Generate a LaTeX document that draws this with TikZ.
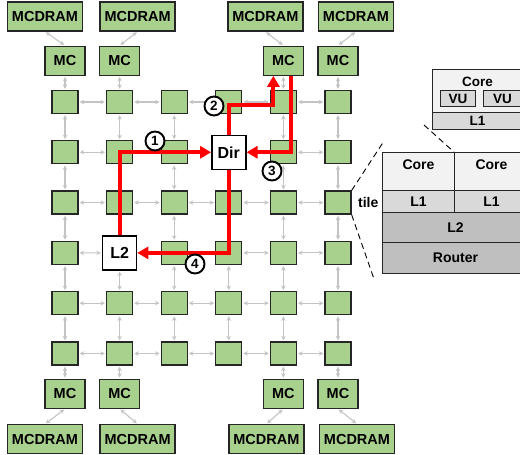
\documentclass[tikz,border=0pt]{standalone}
\usepackage{fontspec}
\setmainfont{Liberation Sans}
\usepackage{tikz}
\usetikzlibrary{arrows.meta, positioning}
\definecolor{tilegreen}{RGB}{169,209,142}
\definecolor{meshgray}{RGB}{196,196,196}
\definecolor{boxline}{RGB}{38,38,38}
\definecolor{corefill}{RGB}{242,242,242}
\definecolor{lonefill}{RGB}{217,217,217}
\definecolor{ltwofill}{RGB}{191,191,191}

\begin{document}
\begin{tikzpicture}[
    x=1pt, y=-1pt,
    tile/.style={
        rectangle,
        draw=boxline,
        fill=tilegreen,
        line width=1.3pt,
        minimum width=26pt,
        minimum height=23pt,
        inner sep=0pt
    },
    mc/.style={
        rectangle,
        draw=boxline,
        fill=tilegreen,
        line width=1.3pt,
        minimum width=40pt,
        minimum height=29pt,
        inner sep=0pt,
        font=\fontsize{14.5}{16}\selectfont\bfseries
    },
    dram/.style={mc, minimum width=75pt},
    agent/.style={
        rectangle,
        draw=black,
        fill=white,
        line width=1.4pt,
        minimum size=34pt,
        inner sep=0pt,
        font=\fontsize{16}{18}\selectfont\bfseries
    },
    part/.style={
        rectangle,
        draw=boxline,
        line width=1pt,
        anchor=north west,
        inner sep=0pt,
        font=\fontsize{14}{16}\selectfont\bfseries
    },
    small/.style={part, font=\fontsize{13.5}{15}\selectfont\bfseries},
    link/.style={<->, >={Stealth[length=4.5pt, width=4.5pt]}, line width=1.1pt, draw=meshgray, shorten >=1pt, shorten <=1pt},
    route/.style={->, >={Triangle[length=11pt, width=12pt]}, line width=4pt, draw=red},
    hop/.style={circle, draw=black, fill=white, line width=1.9pt, minimum size=19pt, inner sep=0pt, font=\fontsize{13.5}{14}\selectfont\bfseries},
    zoomline/.style={dashed, dash pattern=on 6pt off 4pt, line width=0.9pt}
]
    \useasboundingbox (0,0) rectangle (520,455);
    \clip (0,0) rectangle (520,455);

    % Mesh of tiles (two slots hold Dir and L2)
    \foreach \c in {1,...,6}
        \foreach \r in {1,...,6} {
            \pgfmathtruncatemacro{\hole}{(\c==4 && \r==2) || (\c==2 && \r==4)}
            \ifnum\hole=0
                \node[tile] (t-\c-\r) at ({65+(\c-1)*54.6}, {102+(\r-1)*50.3}) {};
            \fi
        }
    \node[agent, alias=t-4-2] (dir) at (228.8,152.3) {Dir};
    \node[agent, alias=t-2-4] (l2) at (119.6,252.9) {L2};

    % Mesh links
    \foreach \c [evaluate=\c as \n using int(\c+1)] in {1,...,5}
        \foreach \r in {1,...,6}
            \draw[link] (t-\c-\r) -- (t-\n-\r);
    \foreach \r [evaluate=\r as \n using int(\r+1)] in {1,...,5}
        \foreach \c in {1,...,6}
            \draw[link] (t-\c-\r) -- (t-\c-\n);

    % Memory controllers: top row
    \foreach \c/\dx in {1/-20, 2/18, 5/-18, 6/18} {
        \node[mc, above=14pt of t-\c-1] (mcn\c) {MC};
        \node[dram, above=14pt of mcn\c, xshift=\dx pt] (dramn\c) {MCDRAM};
        \draw[link] (mcn\c) -- (t-\c-1);
        \draw[link] (dramn\c.south) -- (mcn\c.north);
    }

    % Memory controllers: bottom row
    \foreach \c/\dx in {1/-20, 2/18, 5/-17, 6/19} {
        \node[mc, below=13pt of t-\c-6] (mcs\c) {MC};
        \node[dram, below=15pt of mcs\c, xshift=\dx pt] (drams\c) {MCDRAM};
        \draw[link] (t-\c-6) -- (mcs\c);
        \draw[link] (mcs\c.south) -- (drams\c.north);
    }

    % Miss path: L2 -> Dir -> MC -> Dir -> L2
    \draw[route] (l2.north) |- (dir.west);
    \draw[route] (dir.north) -- ++(0,-30) -| ([xshift=-10pt]mcn5.south);
    \draw[route] ([xshift=8pt]mcn5.south) |- (dir.east);
    \draw[route] (dir.south) |- (l2.east);

    \node[hop] (h1) at (155,141) {1};
    \node[hop] (h2) at (214,106) {2};
    \node[hop] (h3) at (272,171) {3};
    \node[hop] (h4) at (195,264) {4};

    % Tile close-up
    \node[part, fill=corefill, minimum width=72pt, minimum height=38pt, text depth=14pt] (tcore1) at (382,152) {Core};
    \node[part, fill=corefill, minimum width=74pt, minimum height=38pt, text depth=14pt] (tcore2) at (454,152) {Core};
    \node[part, fill=lonefill, minimum width=72pt, minimum height=22pt] (tl1a) at (382,190) {L1};
    \node[part, fill=lonefill, minimum width=74pt, minimum height=22pt] (tl1b) at (454,190) {L1};
    \node[part, fill=ltwofill, minimum width=146pt, minimum height=30pt] (tl2) at (382,212) {L2};
    \node[part, fill=ltwofill, minimum width=146pt, minimum height=31pt] (trouter) at (382,242) {Router};

    % Core close-up
    \node[small, fill=corefill, minimum width=90pt, minimum height=43pt, text depth=18pt] (vcore) at (432,69) {Core};
    \node[small, fill=lonefill, minimum width=35pt, minimum height=16pt] (vu1) at (440,90) {VU};
    \node[small, fill=lonefill, minimum width=38pt, minimum height=16pt] (vu2) at (483,90) {VU};
    \node[small, fill=lonefill, minimum width=90pt, minimum height=17pt] (vl1) at (432,112) {L1};

    % Zoom markers
    \node[font=\fontsize{14}{16}\selectfont\bfseries, right=3pt of t-6-3] (tilelbl) {tile};
    \coordinate (zu) at (384,141);
    \coordinate (zd) at (374,279);
    \coordinate (zc) at (424,125);
    \draw[zoomline] (t-6-3.north east) -- (zu);
    \draw[zoomline] (t-6-3.south east) -- (zd);
    \draw[zoomline] (zc) -- (tcore2.north west);
\end{tikzpicture}
\end{document}
